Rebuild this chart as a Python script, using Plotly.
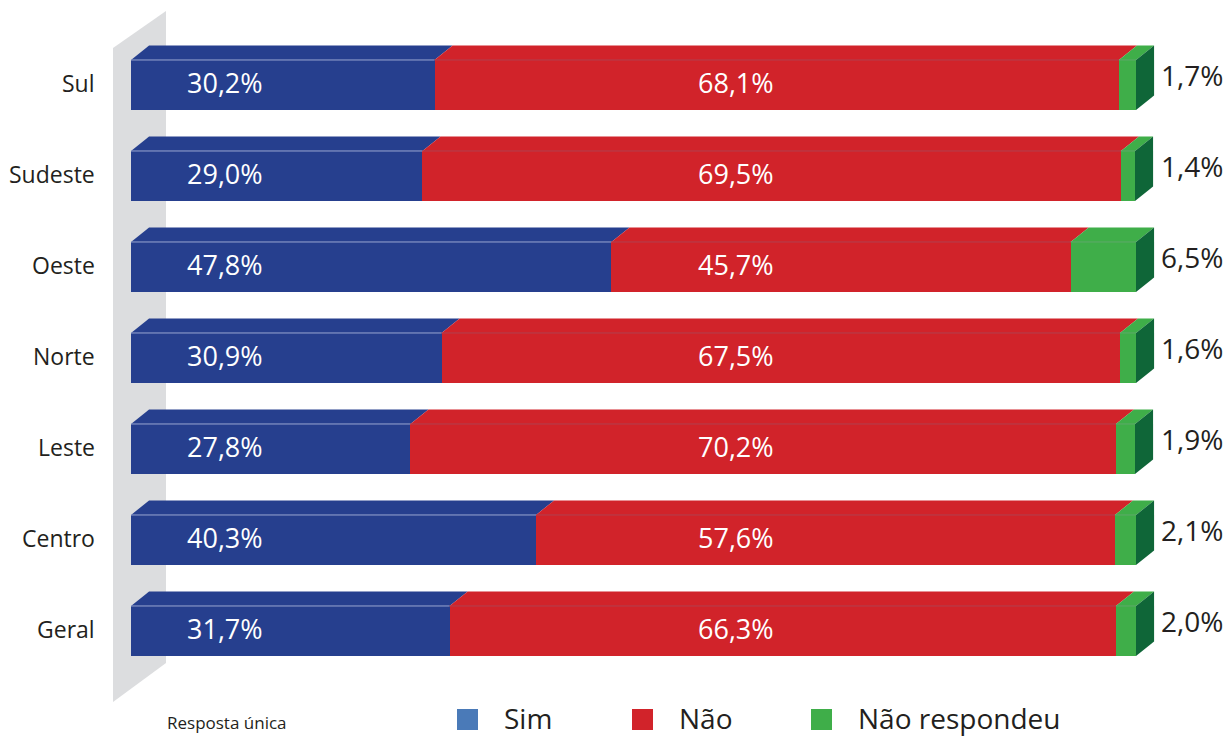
import plotly.graph_objects as go

categories = ["Sul", "Sudeste", "Oeste", "Norte", "Leste", "Centro", "Geral"]
sim = [30.2, 29.0, 47.8, 30.9, 27.8, 40.3, 31.7]
nao = [68.1, 69.5, 45.7, 67.5, 70.2, 57.6, 66.3]
nao_resp = [1.7, 1.4, 6.5, 1.6, 1.9, 2.1, 2.0]
series_names = ["Sim", "Não", "Não respondeu"]
note = "Resposta única"

W, H = 1229, 736
# axis mapping (pixels -> data)
PX_PER_UNIT_X = 10.05
X0_PX = 131
X_MIN = -X0_PX / PX_PER_UNIT_X
X_MAX = X_MIN + W / PX_PER_UNIT_X
PX_PER_CAT = 91
Y0_PX = 85
Y_TOP = -Y0_PX / PX_PER_CAT
Y_BOT = Y_TOP + H / PX_PER_CAT

BAR_W = 0.55
DX = 1.8     # depth offset in x units
DY = 0.16    # depth offset in category units

c_blue, c_red, c_green, c_dgreen = "#263f8e", "#d1232a", "#3fae49", "#0f6638"
legend_colors = ["#4a7ab8", "#d1232a", "#3fae49"]
front_colors = [c_blue, c_red, c_green]
top_edge = ["#9aa6d0", "#b04050", "#5fa86a"]

def fmt(v):
    return f"{v:.1f}%".replace(".", ",")

y_idx = list(range(len(categories)))
fig = go.Figure()
for name, vals, col in zip(series_names, [sim, nao, nao_resp], front_colors):
    fig.add_trace(go.Bar(
        y=y_idx, x=vals, orientation="h", name=name, width=BAR_W,
        marker=dict(color=col, line=dict(width=0)), showlegend=False,
        hoverinfo="skip"))

shapes = []
# back wall (decoration)
wx0, wx1 = (113 - X0_PX) / PX_PER_UNIT_X, (166 - X0_PX) / PX_PER_UNIT_X
def py(p):
    return (p - Y0_PX) / PX_PER_CAT
shapes.append(dict(type="path", xref="x", yref="y", layer="below",
                   path=f"M {wx0},{py(48)} L {wx1},{py(11)} L {wx1},{py(663)} L {wx0},{py(702)} Z",
                   fillcolor="#dcdddf", line=dict(width=0)))

for i in y_idx:
    yt = i - BAR_W / 2
    yb = i + BAR_W / 2
    bounds = [0, sim[i], sim[i] + nao[i], sim[i] + nao[i] + nao_resp[i]]
    for k in range(3):
        a, b = bounds[k], bounds[k + 1]
        shapes.append(dict(type="path", xref="x", yref="y", layer="above",
                           path=f"M {a},{yt} L {a+DX},{yt-DY} L {b+DX},{yt-DY} L {b},{yt} Z",
                           fillcolor=front_colors[k], line=dict(width=0)))
        shapes.append(dict(type="line", xref="x", yref="y", layer="above",
                           x0=a, x1=b, y0=yt, y1=yt,
                           line=dict(color=top_edge[k], width=1)))
    end = bounds[3]
    shapes.append(dict(type="path", xref="x", yref="y", layer="above",
                       path=f"M {end},{yt} L {end+DX},{yt-DY} L {end+DX},{yb-DY} L {end},{yb} Z",
                       fillcolor=c_dgreen, line=dict(width=0)))

annotations = []
for i, cat in enumerate(categories):
    annotations.append(dict(x=-3.4, y=i - 0.02, xref="x", yref="y", text=cat, showarrow=False,
                            xanchor="right", yanchor="middle",
                            font=dict(family="Open Sans", size=23, color="#231f20")))
    annotations.append(dict(x=5.4, y=i - 0.03, xref="x", yref="y", text=fmt(sim[i]), showarrow=False,
                            xanchor="left", yanchor="middle",
                            font=dict(family="Open Sans", size=27, color="white")))
    annotations.append(dict(x=56.2, y=i - 0.03, xref="x", yref="y", text=fmt(nao[i]), showarrow=False,
                            xanchor="left", yanchor="middle",
                            font=dict(family="Open Sans", size=27, color="white")))
    annotations.append(dict(x=102.3, y=i - 0.11, xref="x", yref="y", text=fmt(nao_resp[i]), showarrow=False,
                            xanchor="left", yanchor="middle",
                            font=dict(family="Open Sans", size=28, color="#231f20")))

# legend (manual)
leg_sq_x = [457, 632, 811]
leg_tx_x = [502, 677, 856]
for sx, tx, name, col in zip(leg_sq_x, leg_tx_x, series_names, legend_colors):
    shapes.append(dict(type="rect", xref="paper", yref="paper",
                       x0=sx / W, x1=(sx + 21) / W, y0=1 - 730 / H, y1=1 - 709 / H,
                       fillcolor=col, line=dict(width=0)))
    annotations.append(dict(x=tx / W, y=1 - 718 / H, xref="paper", yref="paper", text=name,
                            showarrow=False, xanchor="left", yanchor="middle",
                            font=dict(family="Open Sans", size=28, color="#231f20")))
annotations.append(dict(x=165 / W, y=1 - 722 / H, xref="paper", yref="paper", text=note,
                        showarrow=False, xanchor="left", yanchor="middle",
                        font=dict(family="Open Sans", size=17, color="#231f20")))

fig.update_layout(
    width=W, height=H, barmode="stack", bargap=0,
    margin=dict(l=0, r=0, t=0, b=0),
    paper_bgcolor="white", plot_bgcolor="white",
    xaxis=dict(range=[X_MIN, X_MAX], visible=False, fixedrange=True),
    yaxis=dict(range=[Y_BOT, Y_TOP], visible=False, fixedrange=True),
    shapes=shapes, annotations=annotations, showlegend=False,
)
fig.write_html("out.html", config={"displayModeBar": False},
               post_script="document.body.style.margin='0';document.body.style.overflow='hidden';")
